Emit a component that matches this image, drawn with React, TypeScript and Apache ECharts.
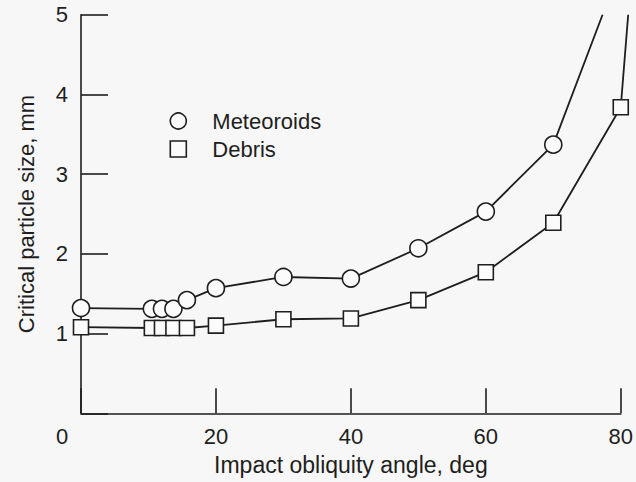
import React, { useEffect, useRef } from "react";
import * as echarts from "echarts";

// Measured points (impact obliquity angle, deg -> critical particle size, mm)
const meteoroidAngles = [0, 10.5, 12, 13.7, 15.7, 20, 30, 40, 50, 60, 70];
const meteoroidSizes = [1.32, 1.31, 1.31, 1.31, 1.42, 1.57, 1.71, 1.69, 2.07, 2.53, 3.37];
const meteoroidCurveEnd = [77.3, 5.0];

const debrisAngles = [0, 10.5, 12, 13.7, 15.7, 20, 30, 40, 50, 60, 70, 80];
const debrisSizes = [1.08, 1.07, 1.07, 1.07, 1.07, 1.1, 1.18, 1.19, 1.42, 1.77, 2.39, 3.84];
const debrisCurveEnd = [81.1, 5.0];

const xMin = 0;
const xMax = 80;
const xStep = 20;
const yMin = 0;
const yMax = 5;
const yStep = 1;

const seriesNames = ["Meteoroids", "Debris"];
const xTitle = "Impact obliquity angle, deg";
const yTitle = "Critical particle size, mm";

const FONT = "'Liberation Sans', Arial, Helvetica, sans-serif";
const INK = "#1e1e1e";
const PAPER = "#f7f7f7";

export default function App() {
  const ref = useRef<HTMLDivElement>(null);

  useEffect(() => {
    if (!ref.current) return;
    const chart = echarts.init(ref.current, undefined, { renderer: "svg" });

    const symbolStyle = { color: "#fbfbfb", borderColor: INK, borderWidth: 1.6 };
    const lineStyle = { color: INK, width: 1.8 };

    const debrisMain = debrisAngles.map((x, i) => [x, debrisSizes[i]]);
    const lastDebris = debrisMain[debrisMain.length - 1];

    chart.setOption({
      animation: false,
      backgroundColor: PAPER,
      textStyle: { fontFamily: FONT, color: INK },
      grid: { left: 81, right: 15, top: 14.7, bottom: 68.7, containLabel: false },
      legend: {
        orient: "vertical",
        left: 169.5,
        top: 110,
        padding: 0,
        itemWidth: 16,
        itemHeight: 16,
        itemGap: 6,
        textStyle: { fontFamily: FONT, fontSize: 22, color: INK, padding: [0, 0, 0, 21] },
        data: [
          { name: seriesNames[0], icon: "circle", itemStyle: { color: "#fbfbfb", borderColor: INK, borderWidth: 1.6 } },
          { name: seriesNames[1], icon: "rect", itemStyle: { color: "#fbfbfb", borderColor: INK, borderWidth: 1.6 } },
        ],
      },
      xAxis: {
        type: "value",
        min: xMin,
        max: xMax,
        interval: xStep,
        name: xTitle,
        nameLocation: "middle",
        nameGap: 40,
        nameTextStyle: { fontFamily: FONT, fontSize: 23, color: INK },
        axisLine: { show: true, onZero: false, lineStyle: { color: INK, width: 1.6 } },
        axisTick: { show: true, inside: true, length: 25, lineStyle: { color: INK, width: 1.6 } },
        axisLabel: {
          fontFamily: FONT,
          fontSize: 22,
          color: INK,
          margin: 12,
          formatter: (v: number) => (v === 0 ? "" : String(v)),
        },
        splitLine: { show: false },
      },
      yAxis: {
        type: "value",
        min: yMin,
        max: yMax,
        interval: yStep,
        name: yTitle,
        nameLocation: "middle",
        nameGap: 44,
        nameTextStyle: { fontFamily: FONT, fontSize: 22, color: INK },
        axisLine: { show: true, onZero: false, lineStyle: { color: INK, width: 1.6 } },
        axisTick: { show: true, inside: true, length: 27, lineStyle: { color: INK, width: 1.6 } },
        axisLabel: {
          fontFamily: FONT,
          fontSize: 22,
          color: INK,
          margin: 13,
          formatter: (v: number) => (v === 0 ? "" : String(v)),
        },
        splitLine: { show: false },
      },
      series: [
        {
          name: seriesNames[0],
          type: "line",
          clip: false,
          symbol: "circle",
          symbolSize: 17,
          itemStyle: symbolStyle,
          lineStyle,
          data: [
            ...meteoroidAngles.map((x, i) => [x, meteoroidSizes[i]]),
            { value: meteoroidCurveEnd, symbol: "none" },
          ],
          z: 3,
        },
        {
          name: seriesNames[1],
          type: "line",
          clip: false,
          symbol: "rect",
          symbolSize: 15,
          itemStyle: symbolStyle,
          lineStyle,
          data: debrisMain,
          z: 4,
        },
      ],
    });

    // Debris curve continues past the 80 deg edge of the plot; map its
    // data through the x/y scales and draw it unclipped.
    const p0 = chart.convertToPixel({ gridIndex: 0 }, lastDebris) as number[];
    const p1 = chart.convertToPixel({ gridIndex: 0 }, debrisCurveEnd) as number[];
    chart.setOption({
      graphic: [
        {
          type: "text",
          x: 62,
          y: 436,
          style: { text: String(xMin), fontFamily: FONT, fontSize: 22, fill: INK, textAlign: "center", textVerticalAlign: "middle" },
        },
        {
          type: "polyline",
          z: 1,
          shape: { points: [p0, p1] },
          style: { stroke: INK, lineWidth: 1.8, fill: "none" },
        },
      ],
    });

    return () => chart.dispose();
  }, []);

  return (
    <div
      ref={ref}
      style={{ position: "absolute", left: 0, top: 0, width: 636, height: 482 }}
    />
  );
}
